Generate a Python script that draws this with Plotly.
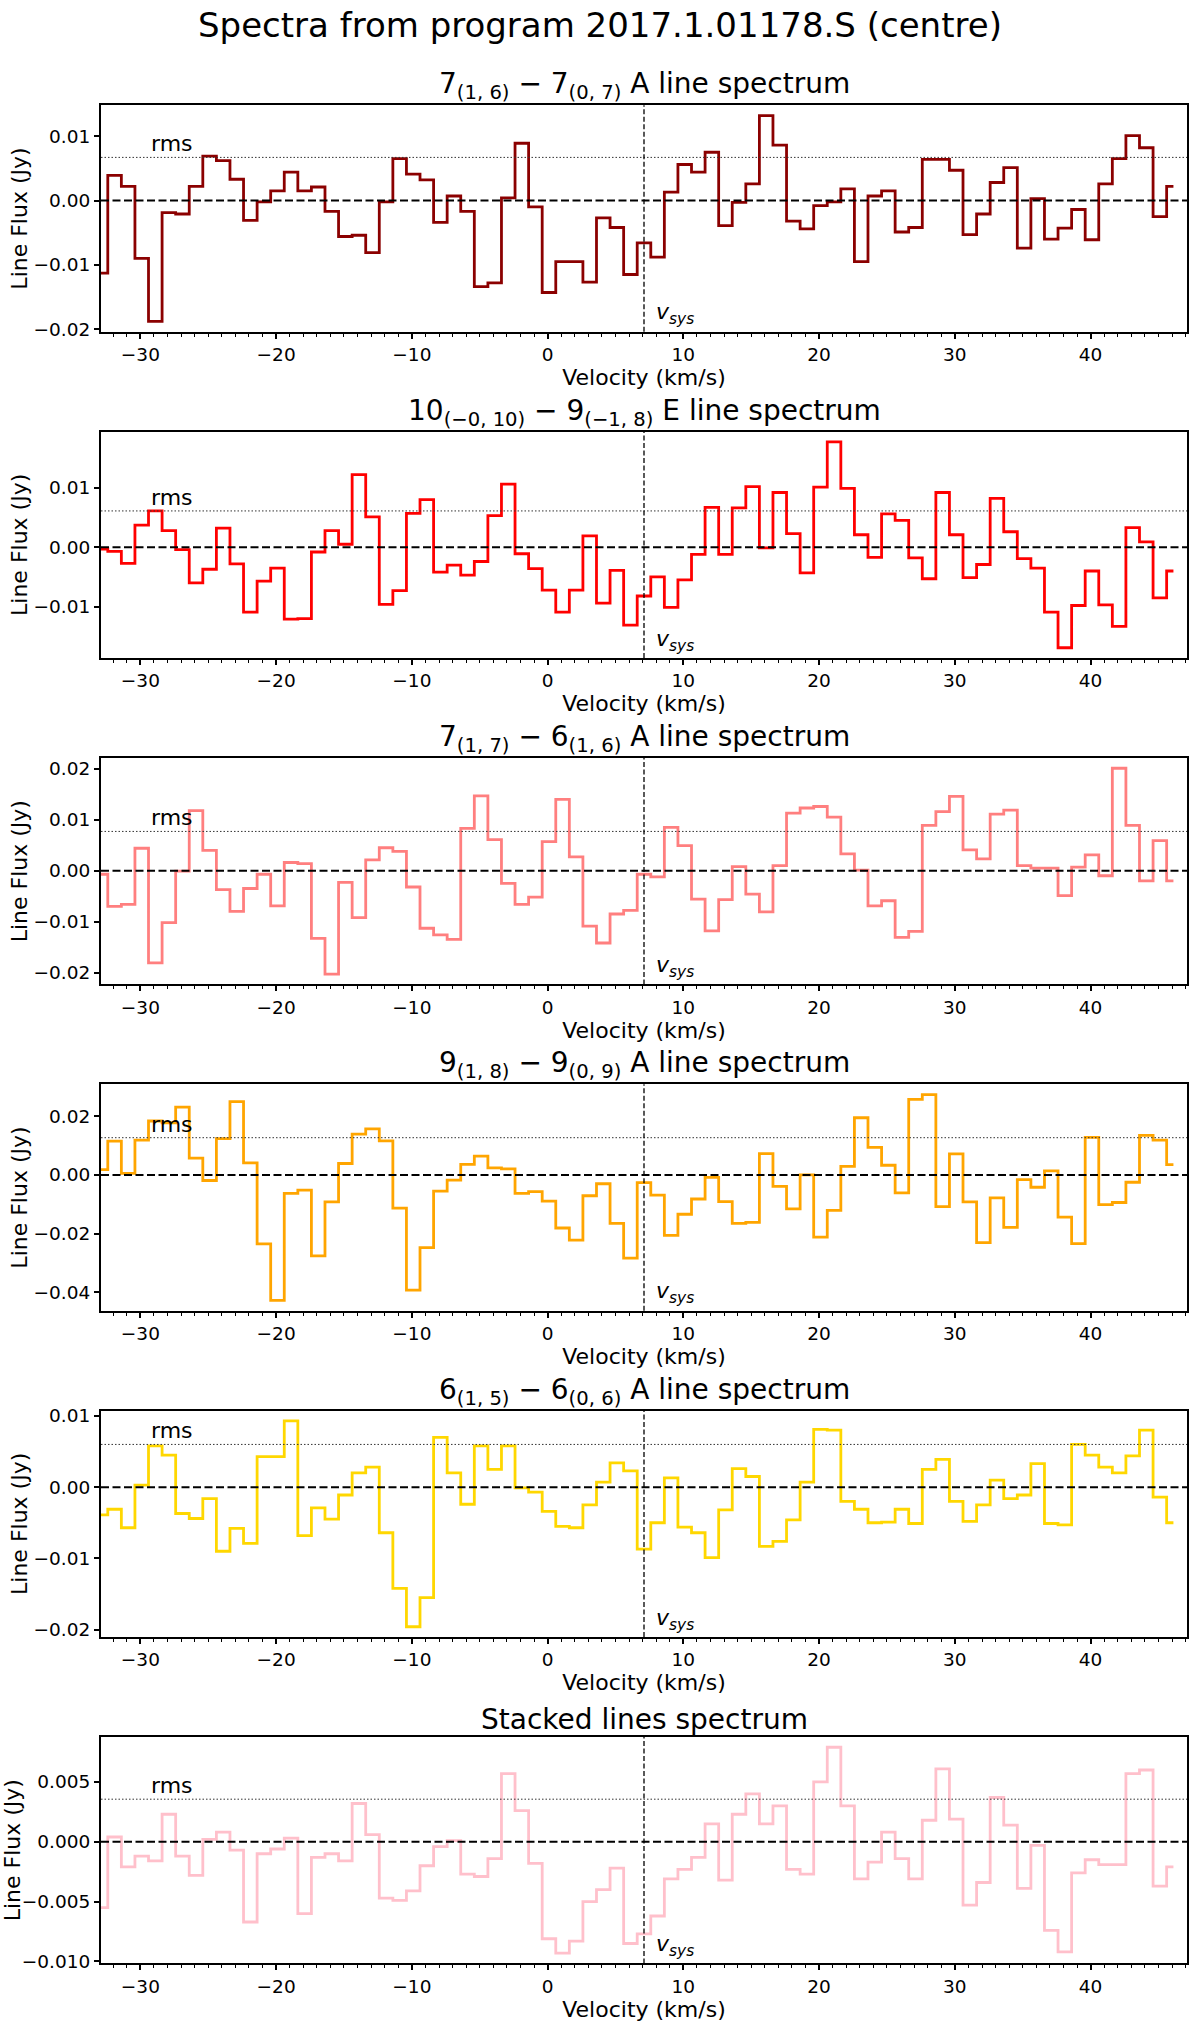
import plotly.graph_objects as go

# ---------------- data ----------------
vsys = 7.1
v_first = -32.9
chan_width = 1.0
n_chan = 80
velocity = [round(v_first + i * chan_width, 2) for i in range(n_chan)]

flux_716_707 = [
    -0.0113, 0.0039, 0.0022, -0.0090, -0.0188, -0.0019, -0.0021, 0.0022, 0.0069, 0.0062,
    0.0033, -0.0031, -0.0002, 0.0015, 0.0044, 0.0015, 0.0021, -0.0017, -0.0056, -0.0054,
    -0.0081, -0.0002, 0.0065, 0.0041, 0.0032, -0.0034, 0.0007, -0.0017, -0.0134, -0.0128,
    0.0004, 0.0089, -0.0010, -0.0143, -0.0095, -0.0095, -0.0127, -0.0027, -0.0042, -0.0115,
    -0.0066, -0.0088, 0.0013, 0.0056, 0.0044, 0.0075, -0.0039, -0.0003, 0.0026, 0.0132,
    0.0086, -0.0032, -0.0044, -0.0008, -0.0002, 0.0018, -0.0095, 0.0007, 0.0015, -0.0049,
    -0.0042, 0.0064, 0.0064, 0.0047, -0.0053, -0.0021, 0.0028, 0.0051, -0.0074, 0.0003,
    -0.0060, -0.0043, -0.0014, -0.0061, 0.0026, 0.0065, 0.0101, 0.0082, -0.0025, 0.0022,
]
flux_10_9E = [
    -0.0003, -0.0007, -0.0027, 0.0037, 0.0061, 0.0028, -0.0004, -0.0060, -0.0037, 0.0032,
    -0.0028, -0.0109, -0.0057, -0.0035, -0.0121, -0.0120, -0.0008, 0.0028, 0.0005, 0.0122,
    0.0051, -0.0096, -0.0073, 0.0057, 0.0080, -0.0042, -0.0030, -0.0047, -0.0024, 0.0053,
    0.0106, -0.0011, -0.0036, -0.0072, -0.0109, -0.0072, 0.0019, -0.0094, -0.0039, -0.0131,
    -0.0082, -0.0050, -0.0101, -0.0055, -0.0012, 0.0067, -0.0012, 0.0066, 0.0102, -0.0001,
    0.0092, 0.0023, -0.0043, 0.0101, 0.0177, 0.0099, 0.0021, -0.0017, 0.0056, 0.0045,
    -0.0018, -0.0053, 0.0092, 0.0021, -0.0051, -0.0029, 0.0082, 0.0026, -0.0019, -0.0035,
    -0.0109, -0.0169, -0.0098, -0.0040, -0.0097, -0.0133, 0.0033, 0.0009, -0.0085, -0.0040,
]
flux_717_616 = [
    -0.0007, -0.0070, -0.0066, 0.0044, -0.0181, -0.0102, -0.0001, 0.0118, 0.0040, -0.0037,
    -0.0080, -0.0035, -0.0007, -0.0069, 0.0016, 0.0014, -0.0133, -0.0203, -0.0023, -0.0092,
    0.0021, 0.0045, 0.0038, -0.0032, -0.0113, -0.0126, -0.0135, 0.0083, 0.0147, 0.0061,
    -0.0025, -0.0066, -0.0052, 0.0057, 0.0140, 0.0027, -0.0109, -0.0142, -0.0085, -0.0078,
    -0.0007, -0.0012, 0.0085, 0.0049, -0.0056, -0.0118, -0.0057, 0.0008, -0.0046, -0.0081,
    0.0010, 0.0113, 0.0123, 0.0126, 0.0105, 0.0033, 0.0001, -0.0069, -0.0059, -0.0131,
    -0.0119, 0.0089, 0.0116, 0.0146, 0.0041, 0.0023, 0.0111, 0.0119, 0.0010, 0.0005,
    0.0005, -0.0049, 0.0007, 0.0031, -0.0010, 0.0201, 0.0089, -0.0020, 0.0059, -0.0020,
]
flux_918_909 = [
    0.0018, 0.0115, 0.0005, 0.0119, 0.0184, 0.0178, 0.0231, 0.0057, -0.0019, 0.0124,
    0.0250, 0.0041, -0.0235, -0.0428, -0.0063, -0.0052, -0.0276, -0.0092, 0.0039, 0.0139,
    0.0157, 0.0116, -0.0113, -0.0393, -0.0248, -0.0055, -0.0018, 0.0036, 0.0064, 0.0024,
    0.0021, -0.0063, -0.0057, -0.0089, -0.0181, -0.0222, -0.0071, -0.0030, -0.0165, -0.0284,
    -0.0026, -0.0069, -0.0206, -0.0134, -0.0082, -0.0008, -0.0091, -0.0165, -0.0162, 0.0073,
    -0.0039, -0.0116, 0.0000, -0.0212, -0.0121, 0.0029, 0.0195, 0.0094, 0.0033, -0.0061,
    0.0258, 0.0274, -0.0108, 0.0072, -0.0092, -0.0231, -0.0078, -0.0179, -0.0016, -0.0042,
    0.0014, -0.0144, -0.0234, 0.0128, -0.0101, -0.0094, -0.0025, 0.0135, 0.0119, 0.0035,
]
flux_615_606 = [
    -0.0039, -0.0031, -0.0057, 0.0003, 0.0058, 0.0045, -0.0037, -0.0044, -0.0016, -0.0090,
    -0.0058, -0.0079, 0.0043, 0.0043, 0.0093, -0.0068, -0.0029, -0.0045, -0.0011, 0.0020,
    0.0028, -0.0064, -0.0142, -0.0196, -0.0155, 0.0070, 0.0020, -0.0024, 0.0058, 0.0025,
    0.0058, -0.0001, -0.0007, -0.0034, -0.0055, -0.0057, -0.0025, 0.0007, 0.0034, 0.0023,
    -0.0087, -0.0050, 0.0013, -0.0056, -0.0064, -0.0099, -0.0032, 0.0026, 0.0015, -0.0083,
    -0.0076, -0.0046, 0.0007, 0.0081, 0.0080, -0.0020, -0.0031, -0.0050, -0.0049, -0.0031,
    -0.0051, 0.0025, 0.0039, -0.0020, -0.0048, -0.0025, 0.0010, -0.0016, -0.0011, 0.0033,
    -0.0051, -0.0053, 0.0060, 0.0045, 0.0028, 0.0020, 0.0044, 0.0080, -0.0014, -0.0050,
]
flux_stacked = [
    -0.0055, 0.0004, -0.0021, -0.0012, -0.0016, 0.0023, -0.0012, -0.0028, 0.0002, 0.0008,
    -0.0007, -0.0067, -0.0010, -0.0006, 0.0003, -0.0060, -0.0013, -0.0010, -0.0016, 0.0032,
    0.0006, -0.0047, -0.0049, -0.0041, -0.0020, -0.0004, 0.0001, -0.0027, -0.0029, -0.0014,
    0.0057, 0.0026, -0.0018, -0.0081, -0.0093, -0.0083, -0.0050, -0.0040, -0.0022, -0.0085,
    -0.0077, -0.0062, -0.0031, -0.0023, -0.0013, 0.0015, -0.0032, 0.0023, 0.0040, 0.0015,
    0.0030, -0.0023, -0.0027, 0.0050, 0.0079, 0.0030, -0.0031, -0.0017, 0.0008, -0.0014,
    -0.0031, 0.0018, 0.0061, 0.0019, -0.0053, -0.0034, 0.0037, 0.0014, -0.0039, -0.0003,
    -0.0074, -0.0092, -0.0026, -0.0015, -0.0019, -0.0019, 0.0057, 0.0060, -0.0037, -0.0021,
]

rms_values = [0.0067, 0.0061, 0.0077, 0.0127, 0.0060, 0.00356]

panel_titles = [
    "7<sub>(1, 6)</sub> − 7<sub>(0, 7)</sub> A line spectrum",
    "10<sub>(−0, 10)</sub> − 9<sub>(−1, 8)</sub> E line spectrum",
    "7<sub>(1, 7)</sub> − 6<sub>(1, 6)</sub> A line spectrum",
    "9<sub>(1, 8)</sub> − 9<sub>(0, 9)</sub> A line spectrum",
    "6<sub>(1, 5)</sub> − 6<sub>(0, 6)</sub> A line spectrum",
    "Stacked lines spectrum",
]
panel_fluxes = [flux_716_707, flux_10_9E, flux_717_616, flux_918_909, flux_615_606, flux_stacked]
panel_colors = ["#8b0000", "#ff0000", "#ff7f7f", "#ffa500", "#ffd700", "#ffc0cb"]
y_dticks = [0.01, 0.01, 0.01, 0.02, 0.01, 0.005]
y_formats = [".2f", ".2f", ".2f", ".2f", ".2f", ".3f"]
x_tickvals = [-30, -20, -10, 0, 10, 20, 30, 40]

# ---------------- layout geometry (pixels) ----------------
W, H = 1200, 2028
ax_left, ax_right = 101, 1187
top0, pitch, ph = 101, 328.6, 228
FONT = "DejaVu Sans"

fig = go.Figure()
layout = dict(
    width=W, height=H, margin=dict(l=0, r=0, t=0, b=0),
    paper_bgcolor="white", plot_bgcolor="white",
    font=dict(family=FONT, color="black"),
    showlegend=False,
)
shapes, annotations = [], []

for i, (flux, color) in enumerate(zip(panel_fluxes, panel_colors)):
    n = "" if i == 0 else str(i + 1)
    xa, ya = "x" + n, "y" + n
    top = top0 + i * pitch
    ydom = [1 - (top + ph) / H, 1 - top / H]
    lo, hi = min(flux), max(flux)
    margin = 0.05 * (hi - lo)
    yrange = [lo - margin, hi + margin]

    fig.add_trace(go.Scatter(
        x=velocity, y=flux, mode="lines", line=dict(color=color, width=2.8, shape="hvh"),
        xaxis=xa, yaxis=ya, hoverinfo="skip"))

    layout["xaxis" + n] = dict(
        domain=[ax_left / W, ax_right / W], anchor=ya, range=[vsys - 40, vsys + 40],
        tickvals=x_tickvals, ticks="outside", ticklen=5, tickwidth=1.6, tickcolor="black",
        showline=True, mirror=True, linecolor="black", linewidth=2, showgrid=False, zeroline=False,
        tickfont=dict(size=18.5, family=FONT),
        minor=dict(dtick=1, tick0=0, ticks="outside", ticklen=3, tickwidth=1.2, tickcolor="black", showgrid=False),
        title=dict(text="Velocity (km/s)", font=dict(size=22, family=FONT), standoff=2),
    )
    layout["yaxis" + n] = dict(
        domain=ydom, anchor=xa, range=yrange, dtick=y_dticks[i], tick0=0, tickformat=y_formats[i],
        ticks="outside", ticklen=5, tickwidth=1.6, tickcolor="black",
        showline=True, mirror=True, linecolor="black", linewidth=2, showgrid=False, zeroline=False,
        tickfont=dict(size=18.5, family=FONT),
        title=dict(text="Line Flux (Jy)", font=dict(size=22, family=FONT), standoff=0),
    )

    # zero line
    shapes.append(dict(type="line", xref=xa + " domain", x0=0, x1=1, yref=ya, y0=0, y1=0,
                       line=dict(color="black", width=2, dash="8px,3.5px")))
    # rms line
    shapes.append(dict(type="line", xref=xa + " domain", x0=0, x1=1, yref=ya,
                       y0=rms_values[i], y1=rms_values[i],
                       line=dict(color="#333333", width=1, dash="1.5px,2px")))
    # systemic velocity
    shapes.append(dict(type="line", xref=xa, x0=vsys, x1=vsys, yref=ya + " domain", y0=0, y1=1,
                       line=dict(color="black", width=1.3, dash="5px,2.5px")))

    annotations.append(dict(text="rms", xref=xa, yref=ya, x=-29.3, y=rms_values[i],
                            xanchor="left", yanchor="bottom", showarrow=False,
                            font=dict(size=22, family=FONT), borderpad=0))
    annotations.append(dict(text="<i>v<sub>sys</sub></i>", xref=xa, yref=ya + " domain",
                            x=vsys + 0.8, y=0.01, xanchor="left", yanchor="bottom", showarrow=False,
                            font=dict(size=22, family=FONT), borderpad=0))
    annotations.append(dict(text=panel_titles[i], xref="paper", yref="paper",
                            x=(ax_left + ax_right) / 2 / W, y=1 - (top + 1) / H,
                            xanchor="center", yanchor="bottom", showarrow=False,
                            font=dict(size=28, family=FONT)))

annotations.append(dict(text="Spectra from program 2017.1.01178.S (centre)", xref="paper", yref="paper",
                        x=0.5, y=1 - 20 / H, xanchor="center", yanchor="middle", showarrow=False,
                        font=dict(size=34, family=FONT)))

layout["shapes"] = shapes
layout["annotations"] = annotations
fig.update_layout(**layout)
fig.write_html("out.html")
